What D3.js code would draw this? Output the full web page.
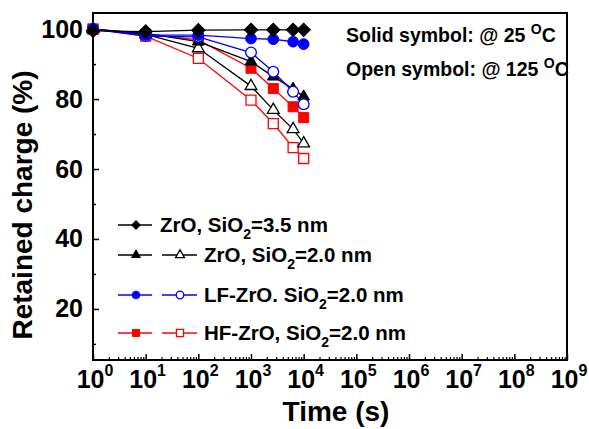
<!DOCTYPE html>
<html>
<head>
<meta charset="utf-8">
<script src="https://cdn.jsdelivr.net/npm/d3@7"></script>
<style>
  body { margin: 0; background: #fff; }
  svg { display: block; font-family: "Liberation Sans", Arial, sans-serif; font-weight: bold; }
</style>
</head>
<body>
<script>
// times of the measurements (s)
var times = [1, 10, 100, 1000, 2650, 6300, 10000];

// retained charge (%) for each sample, 25 C (solid) and 125 C (open)
var zro35_25  = [99.5, 99.3, 99.7, 99.8, 99.8, 99.8, 99.8];
var zro20_25  = [100, 98.8, 96.4, 90.7, 86.4, 82.9, 80.7];
var zro20_125 = [100, 98.5, 94.5, 83.7, 76.9, 71.4, 67.3];
var lf_25     = [100, 98.3, 98.3, 97.3, 97.1, 96.4, 95.7];
var lf_125    = [100, 98.0, 97.8, 93.3, 87.8, 82.1, 78.5];
var hf_25     = [100, 98.6, 96.9, 88.8, 83.0, 77.8, 74.7];
var hf_125    = [100, 98.0, 91.6, 79.7, 73.0, 66.1, 63.0];

var xMajor = [1e0, 1e1, 1e2, 1e3, 1e4, 1e5, 1e6, 1e7, 1e8, 1e9];
var yMajor = [20, 40, 60, 80, 100];
var yMinor = [10, 30, 50, 70, 90];
var legendNames = ["ZrO, SiO|2|=3.5 nm", "ZrO, SiO|2|=2.0 nm", "LF-ZrO. SiO|2|=2.0 nm", "HF-ZrO, SiO|2|=2.0 nm"];

var W = 589, H = 429;
var margin = { top: 13, right: 22, bottom: 69, left: 93 };

var x = d3.scaleLog().domain([1, 1e9]).range([margin.left, W - margin.right]);
var y = d3.scaleLinear().domain([5.4, 104.6]).range([H - margin.bottom, margin.top]);

var svg = d3.select("body").append("svg")
    .attr("width", W)
    .attr("height", H);

// minor log ticks
var xMinor = [];
xMajor.slice(0, -1).forEach(function(d) {
  for (var k = 2; k < 10; k++) xMinor.push(d * k);
});

//bottom axis, ticks pointing inward
svg.append("g")
    .attr("transform", "translate(0," + y.range()[0] + ")")
    .call(d3.axisBottom(x).tickValues(xMinor).tickSize(-3).tickFormat(""))
    .call(function(g) { g.select(".domain").remove(); g.selectAll("line").attr("stroke-width", 1.2); });

var xAx = svg.append("g")
    .attr("transform", "translate(0," + y.range()[0] + ")")
    .call(d3.axisBottom(x).tickValues(xMajor).tickSize(-6).tickFormat(""));
xAx.select(".domain").remove();
xAx.selectAll("line").attr("stroke-width", 1.5);

// x tick labels with exponents
xMajor.forEach(function(d, i) {
  var t = svg.append("text")
      .attr("x", x(d) + 2)
      .attr("y", y.range()[0] + 28)
      .attr("text-anchor", "middle")
      .style("font-size", "25px");
  t.append("tspan").text("10");
  t.append("tspan").attr("dy", -12).style("font-size", "16px").text(i);
});

// left axis
svg.append("g")
    .attr("transform", "translate(" + margin.left + ",0)")
    .call(d3.axisLeft(y).tickValues(yMinor).tickSize(-3).tickFormat(""))
    .call(function(g) { g.select(".domain").remove(); g.selectAll("line").attr("stroke-width", 1.5); });

var yAx = svg.append("g")
    .attr("transform", "translate(" + margin.left + ",0)")
    .call(d3.axisLeft(y).tickValues(yMajor).tickSize(-6).tickPadding(10));
yAx.select(".domain").remove();
yAx.selectAll("line").attr("stroke-width", 1.5);
yAx.selectAll("text")
    .style("font-size", "25px")
    .style("font-family", "Liberation Sans, Arial, sans-serif")
    .style("font-weight", "bold")
    .attr("fill", "#000");

// frame
svg.append("rect")
    .attr("x", margin.left)
    .attr("y", margin.top)
    .attr("width", W - margin.right - margin.left)
    .attr("height", H - margin.bottom - margin.top)
    .attr("fill", "none")
    .attr("stroke", "#000")
    .attr("stroke-width", 2);

// axis titles
svg.append("text")
    .attr("x", (x.range()[0] + x.range()[1]) / 2 + 6)
    .attr("y", 421)
    .attr("text-anchor", "middle")
    .style("font-size", "28px")
    .text("Time (s)");

svg.append("text")
    .attr("text-anchor", "middle")
    .attr("transform", "translate(32," + 205 + ")rotate(-90)")
    .style("font-size", "28px")
    .text("Retained charge (%)");

// series
var series = [
  { v: hf_125,    color: "red",   type: "square",  open: true },
  { v: hf_25,     color: "red",   type: "square",  open: false },
  { v: zro20_125, color: "black", type: "triangle", open: true },
  { v: zro20_25,  color: "black", type: "triangle", open: false },
  { v: lf_125,    color: "blue",  type: "circle",  open: true },
  { v: lf_25,     color: "blue",  type: "circle",  open: false },
  { v: zro35_25,  color: "black", type: "diamond", open: false }
];

var symTypes = { square: d3.symbolSquare, triangle: d3.symbolTriangle, circle: d3.symbolCircle, diamond: d3.symbolSquare };
var symSizes = { square: 100, triangle: 60, circle: 90, diamond: 90 };

function marker(g, type, size, color, open, cx, cy) {
  g.append("path")
      .attr("d", d3.symbol().type(symTypes[type]).size(size)())
      .attr("transform", "translate(" + cx + "," + cy + ")" + (type == "diamond" ? "rotate(45)" : ""))
      .attr("fill", open ? "#fff" : color)
      .attr("stroke", color)
      .attr("stroke-width", open ? 1.3 : 1);
}

var line = d3.line()
    .x(function(d, i) { return x(times[i]); })
    .y(function(d) { return y(d); });

series.forEach(function(s) {
  svg.append("path")
      .attr("d", line(s.v))
      .attr("fill", "none")
      .attr("stroke", s.color)
      .attr("stroke-width", 1.3);
});
series.forEach(function(s) {
  var g = svg.append("g");
  s.v.forEach(function(d, i) {
    marker(g, s.type, symSizes[s.type], s.color, s.open, x(times[i]), y(d));
  });
});

// legend
var legRows = [225, 255, 295, 333];
var legItems = [
  { color: "black", type: "diamond", pair: false },
  { color: "black", type: "triangle", pair: true },
  { color: "blue",  type: "circle", pair: true },
  { color: "red",   type: "square", pair: true }
];
var legSizes = { square: 50, triangle: 34, circle: 45, diamond: 36 };

legItems.forEach(function(it, i) {
  var g = svg.append("g");
  var ly = legRows[i];
  g.append("line").attr("x1", 118).attr("x2", 152).attr("y1", ly).attr("y2", ly)
      .attr("stroke", it.color).attr("stroke-width", 1.5);
  marker(g, it.type, legSizes[it.type], it.color, false, 136, ly);
  var tx = 160;
  if (it.pair) {
    g.append("line").attr("x1", 162).attr("x2", 197).attr("y1", ly).attr("y2", ly)
        .attr("stroke", it.color).attr("stroke-width", 1.5);
    marker(g, it.type, legSizes[it.type], it.color, true, 180, ly);
    tx = 204;
  }
  var parts = legendNames[i].split("|");
  var t = g.append("text")
      .attr("x", tx)
      .attr("y", ly + 7)
      .style("font-size", "20.5px");
  t.append("tspan").text(parts[0]);
  t.append("tspan").attr("dy", 7).style("font-size", "14px").text(parts[1]);
  t.append("tspan").attr("dy", -7).text(parts[2]);
});

// temperature note
var notes = [["Solid symbol: @ 25 ", 42], ["Open symbol: @ 125 ", 76]];
notes.forEach(function(n) {
  var t = svg.append("text")
      .attr("x", 346)
      .attr("y", n[1])
      .style("font-size", "19.5px");
  t.append("tspan").text(n[0]);
  t.append("tspan").attr("dy", -8).style("font-size", "14px").text("O");
  t.append("tspan").attr("dy", 8).text("C");
});
</script>
</body>
</html>
